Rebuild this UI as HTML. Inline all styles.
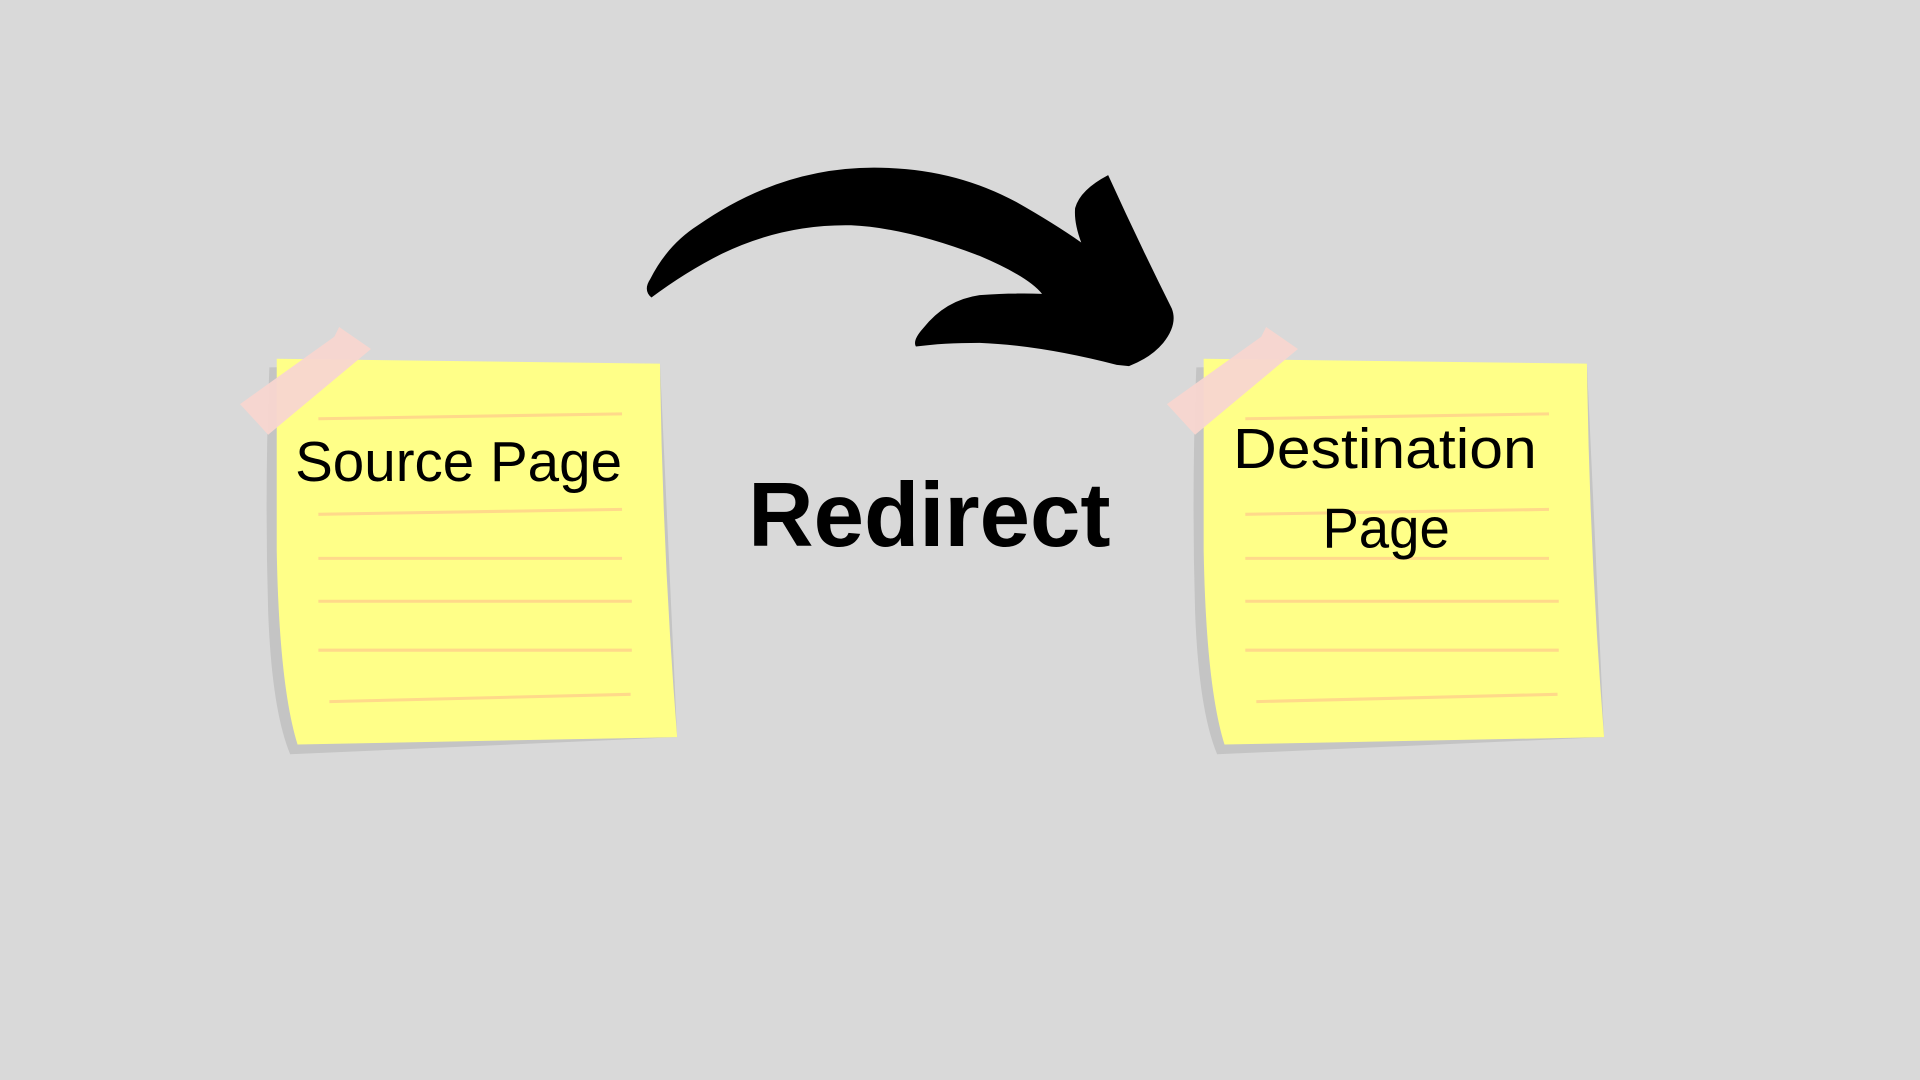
<!DOCTYPE html>
<html><head><meta charset="utf-8"><style>
html,body{margin:0;padding:0;background:#d9d9d9;width:1920px;height:1080px;overflow:hidden}
svg{display:block}
</style></head><body>
<svg width="1920" height="1080" viewBox="0 0 1568 882" preserveAspectRatio="none" xmlns="http://www.w3.org/2000/svg">
<rect width="1568" height="882" fill="#d9d9d9"/>
<defs>
<g id="note">
  <path d="M220 300 Q216 400 219 500 Q222 580 237 616 L553 602 L539 297 Z" fill="#c4c4c4"/>
  <path d="M226 293 L539 297 Q541 450 553 602 L243 608 Q228 560 226 450 Z" fill="#ffff88"/>
  <g stroke="#ffd98a" stroke-width="2.5" fill="none">
    <path d="M260 342 L508 338"/>
    <path d="M260 420 L508 416"/>
    <path d="M260 456 L508 456"/>
    <path d="M260 491 L516 491"/>
    <path d="M260 531 L516 531"/>
    <path d="M269 573 L515 567"/>
  </g>
  <path d="M196 330 L273 275 L277 267 L303 285 L219 355 Z" fill="#f8d6d0" opacity="0.95"/>
</g>
</defs>
<use href="#note"/>
<use href="#note" transform="translate(757 0)"/>
<path d="M532 243 Q525 237 531 228 Q545 200 570 184 Q640 135 720 137 Q780 138 830 165 Q860 182 883 198 Q877 182 878 170 Q882 155 905 143 Q930 198 957 252 Q962 265 950 280 Q940 292 922 299 L912 298 Q850 282 800 280 Q770 280 748 283 Q745 278 754 268 Q772 245 800 241 Q830 239 851 240 Q840 226 800 209 Q740 186 695 184 Q640 183 590 207 Q560 222 532 243 Z" fill="#000"/>
<g font-family="'Liberation Sans',sans-serif" fill="#000">
  <text x="241" y="393" font-size="46" textLength="267" lengthAdjust="spacingAndGlyphs">Source Page</text>
  <text x="1007" y="382" font-size="46" textLength="248" lengthAdjust="spacingAndGlyphs">Destination</text>
  <text x="1080" y="447" font-size="46" textLength="104" lengthAdjust="spacingAndGlyphs">Page</text>
  <text x="611" y="446" font-size="74" font-weight="bold" textLength="296" lengthAdjust="spacingAndGlyphs">Redirect</text>
</g>
</svg>
</body></html>
